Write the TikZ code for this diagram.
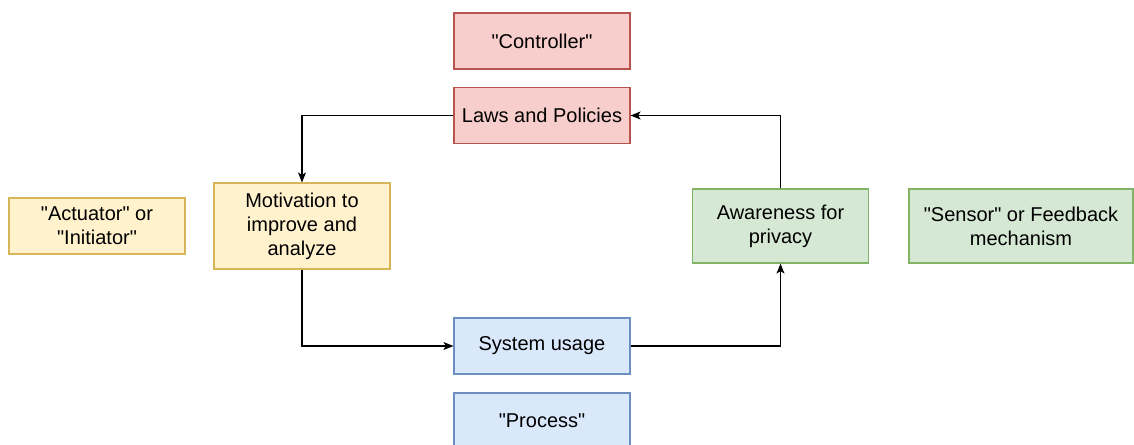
\documentclass[tikz,border=0pt]{standalone}
\usepackage{fontspec}
% TeX ligature mapping off so that " stays a straight quote
\setmainfont{Liberation Sans}[Ligatures=TeXOff]
\usetikzlibrary{arrows.meta}

\definecolor{redfill}{HTML}{F8CECC}
\definecolor{redline}{HTML}{B85450}
\definecolor{yellowfill}{HTML}{FFF2CC}
\definecolor{yellowline}{HTML}{D6B656}
\definecolor{greenfill}{HTML}{D5E8D4}
\definecolor{greenline}{HTML}{82B366}
\definecolor{bluefill}{HTML}{DAE8FC}
\definecolor{blueline}{HTML}{6C8EBF}

\tikzset{
  box/.style={rectangle, inner sep=0pt, align=center, line width=1.2pt,
    minimum width=176pt, minimum height=56pt,
    font=\fontsize{20}{24}\selectfont},
  redbox/.style={box, fill=redfill, draw=redline},
  yellowbox/.style={box, fill=yellowfill, draw=yellowline},
  greenbox/.style={box, fill=greenfill, draw=greenline},
  bluebox/.style={box, fill=bluefill, draw=blueline},
  flow/.style={line width=1.2pt, -{Stealth[length=10pt,width=8pt,inset=2.5pt]}},
}

\begin{document}
\begin{tikzpicture}[x=1pt,y=-1pt]
  \useasboundingbox (0,0) rectangle (1134,444);
  \clip (0,0) rectangle (1134,444);

  % controller side
  \node[redbox] (ctrl) at (542,41) {"Controller"};
  \node[redbox] (laws) at (542,115.5) {Laws and Policies};

  % actuator side
  \node[yellowbox, minimum height=86pt] (motiv) at (302,226) {Motivation to\\improve and\\analyze};
  \node[yellowbox] (act) at (97,226) {"Actuator" or\\"Initiator"};

  % sensor side
  \node[greenbox, minimum height=74pt] (aware) at (780.5,226) {Awareness for\\privacy};
  \node[greenbox, minimum width=224pt, minimum height=74pt] (sensor) at (1021,226) {"Sensor" or Feedback\\mechanism};

  % process side
  \node[bluebox] (usage) at (542,346) {System usage};
  \node[bluebox] (proc) at (542,421) {"Process"};

  % feedback loop
  \draw[flow] (laws.west) -| (motiv.north);
  \draw[flow] (motiv.south) |- (usage.west);
  \draw[flow] (usage.east) -| (aware.south);
  \draw[flow] (aware.north) |- (laws.east);
\end{tikzpicture}
\end{document}
